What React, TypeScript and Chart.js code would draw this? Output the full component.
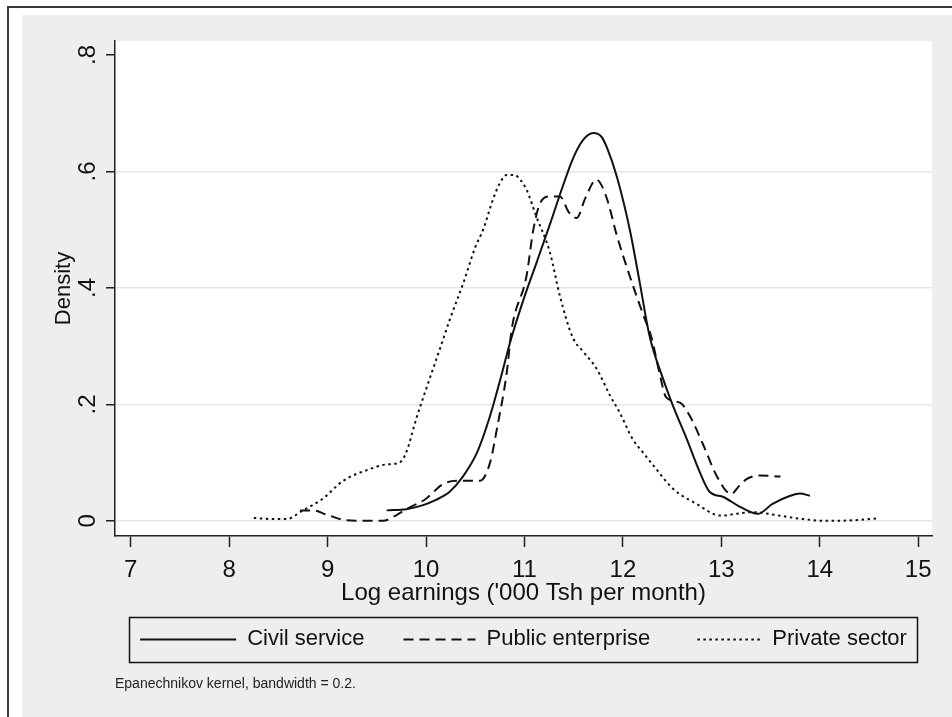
import React, { useEffect, useRef } from 'react';
import { Chart, registerables } from 'chart.js';

Chart.register(...registerables);

// ---- Data ----
const civilX = [9.6, 9.8, 9.97, 10.1, 10.24, 10.37, 10.52, 10.65, 10.75, 10.86, 11.0, 11.13, 11.26, 11.39, 11.5, 11.6, 11.7, 11.78, 11.84, 11.94, 12.07, 12.17, 12.27, 12.41, 12.51, 12.65, 12.78, 12.88, 13.02, 13.19, 13.37, 13.52, 13.7, 13.8, 13.9];
const civilY = [0.018, 0.02, 0.027, 0.036, 0.05, 0.075, 0.118, 0.18, 0.24, 0.31, 0.385, 0.447, 0.51, 0.575, 0.625, 0.655, 0.666, 0.66, 0.64, 0.59, 0.5, 0.41, 0.318, 0.243, 0.197, 0.14, 0.084, 0.05, 0.041, 0.024, 0.012, 0.029, 0.043, 0.047, 0.043];

const publicX = [8.72, 8.85, 9.0, 9.19, 9.4, 9.56, 9.7, 9.8, 10.0, 10.17, 10.31, 10.55, 10.65, 10.72, 10.82, 10.87, 11.02, 11.09, 11.16, 11.26, 11.36, 11.45, 11.53, 11.62, 11.73, 11.83, 11.94, 12.07, 12.21, 12.29, 12.37, 12.44, 12.58, 12.68, 12.82, 12.95, 13.1, 13.18, 13.26, 13.39, 13.6];
const publicY = [0.018, 0.018, 0.01, 0.001, 0.0, 0.0, 0.01, 0.02, 0.038, 0.063, 0.069, 0.069, 0.1, 0.158, 0.255, 0.329, 0.42, 0.5, 0.546, 0.557, 0.557, 0.53, 0.52, 0.555, 0.586, 0.557, 0.489, 0.42, 0.352, 0.315, 0.255, 0.212, 0.203, 0.18, 0.129, 0.078, 0.046, 0.06, 0.072, 0.078, 0.076];

const privateX = [8.25, 8.45, 8.58, 8.75, 8.95, 9.16, 9.43, 9.6, 9.73, 9.8, 9.9, 10.0, 10.14, 10.24, 10.38, 10.5, 10.58, 10.68, 10.75, 10.82, 10.9, 10.96, 11.02, 11.12, 11.26, 11.36, 11.49, 11.6, 11.73, 11.87, 11.97, 12.1, 12.2, 12.31, 12.51, 12.75, 12.99, 13.15, 13.32, 13.59, 13.83, 14.07, 14.34, 14.58];
const privateY = [0.005, 0.003, 0.003, 0.018, 0.038, 0.069, 0.089, 0.097, 0.1, 0.118, 0.175, 0.226, 0.295, 0.345, 0.409, 0.47, 0.5, 0.552, 0.58, 0.594, 0.594, 0.585, 0.569, 0.523, 0.46, 0.386, 0.315, 0.29, 0.262, 0.215, 0.185, 0.14, 0.118, 0.095, 0.055, 0.029, 0.009, 0.012, 0.015, 0.009, 0.003, 0.0, 0.001, 0.004];

const seriesNames = ['Civil service', 'Public enterprise', 'Private sector'];
const xTicks = [7, 8, 9, 10, 11, 12, 13, 14, 15];
const yTicks = [0, 0.2, 0.4, 0.6, 0.8];
const yTickLabels = ['0', '.2', '.4', '.6', '.8'];
const xTitle = "Log earnings ('000 Tsh per month)";
const yTitle = 'Density';
const noteText = 'Epanechnikov kernel, bandwidth = 0.2.';

const FONT = "'Liberation Sans', Arial, sans-serif";
const SYMBOL_W = 96;

const toPoints = (xs: number[], ys: number[]) => xs.map((x, i) => ({ x, y: ys[i] }));

const framePlugin = {
  id: 'stataFrame',
  beforeDraw(chart: any) {
    const { ctx, chartArea: a, width, height } = chart;
    ctx.save();
    ctx.fillStyle = '#ffffff';
    ctx.fillRect(0, 0, width, height);
    ctx.fillStyle = '#eeeeee';
    ctx.fillRect(22, 15, width - 22, height - 15);
    ctx.fillStyle = '#ffffff';
    ctx.fillRect(a.left, a.top, a.right - a.left, a.bottom - a.top);
    ctx.strokeStyle = '#3a3a3a';
    ctx.lineWidth = 2;
    ctx.beginPath();
    ctx.moveTo(8, height);
    ctx.lineTo(8, 7);
    ctx.lineTo(width, 7);
    ctx.stroke();
    ctx.restore();
  },
  afterDraw(chart: any) {
    const { ctx, legend } = chart;
    ctx.save();
    // legend frame
    ctx.strokeStyle = '#111';
    ctx.lineWidth = 1.5;
    ctx.setLineDash([]);
    ctx.strokeRect(129.5, 617.5, 788, 45);
    // legend keys, using each dataset's own line style
    const lens = [SYMBOL_W, 72, 64];
    if (legend && legend.legendHitBoxes) {
      legend.legendHitBoxes.forEach((hb: any, i: number) => {
        const ds = chart.data.datasets[i];
        const y = Math.round(hb.top + hb.height / 2) + 0.5;
        const x1 = hb.left + SYMBOL_W;
        const x0 = x1 - lens[i];
        ctx.beginPath();
        ctx.strokeStyle = ds.borderColor;
        ctx.lineWidth = ds.borderWidth;
        ctx.setLineDash(ds.borderDash || []);
        ctx.moveTo(x0, y);
        ctx.lineTo(x1, y);
        ctx.stroke();
      });
    }
    ctx.restore();
  },
};

export default function App() {
  const ref = useRef<HTMLCanvasElement | null>(null);

  useEffect(() => {
    if (!ref.current) return;
    const chart = new Chart(ref.current, {
      type: 'scatter',
      data: {
        datasets: [
          {
            label: seriesNames[0],
            data: toPoints(civilX, civilY),
            showLine: true,
            borderColor: '#111',
            backgroundColor: 'transparent',
            borderWidth: 2,
            pointRadius: 0,
            cubicInterpolationMode: 'monotone',
          },
          {
            label: seriesNames[1],
            data: toPoints(publicX, publicY),
            showLine: true,
            borderColor: '#111',
            backgroundColor: 'transparent',
            borderWidth: 2,
            borderDash: [10, 6],
            pointRadius: 0,
            cubicInterpolationMode: 'monotone',
          },
          {
            label: seriesNames[2],
            data: toPoints(privateX, privateY),
            showLine: true,
            borderColor: '#111',
            backgroundColor: 'transparent',
            borderWidth: 2,
            borderDash: [2.5, 3.5],
            pointRadius: 0,
            cubicInterpolationMode: 'monotone',
          },
        ],
      } as any,
      options: {
        animation: false,
        responsive: false,
        devicePixelRatio: 1,
        layout: { padding: { left: 0, top: 41, right: 20, bottom: 24.2 } },
        scales: {
          x: {
            type: 'linear',
            min: 6.84,
            max: 15.14,
            afterBuildTicks: (scale: any) => {
              scale.ticks = xTicks.map((v) => ({ value: v }));
            },
            afterFit: (scale: any) => {
              scale.height = 76.5;
            },
            ticks: {
              font: { family: FONT, size: 24 },
              color: '#111',
              padding: 9,
              maxRotation: 0,
              callback: (v: any) => String(v),
            },
            grid: {
              drawOnChartArea: false,
              drawTicks: true,
              tickLength: 11,
              tickColor: '#222',
              tickWidth: 1.5,
            },
            border: { display: true, color: '#222', width: 1.5 },
            title: {
              display: true,
              text: xTitle,
              font: { family: FONT, size: 24 },
              color: '#111',
              padding: { top: 0, bottom: 5 },
            },
          },
          y: {
            type: 'linear',
            min: -0.026,
            max: 0.824,
            afterBuildTicks: (scale: any) => {
              scale.ticks = yTicks.map((v) => ({ value: v }));
            },
            afterFit: (scale: any) => {
              scale.width = 115;
            },
            ticks: {
              font: { family: FONT, size: 24 },
              color: '#111',
              padding: 8,
              minRotation: 90,
              maxRotation: 90,
              crossAlign: 'center',
              callback: (v: any) => {
                const i = yTicks.findIndex((t) => Math.abs(t - v) < 1e-9);
                return i >= 0 ? yTickLabels[i] : '';
              },
            },
            grid: {
              drawOnChartArea: true,
              color: (c: any) => (c.tick && Math.abs(c.tick.value - 0.8) < 1e-9 ? 'rgba(0,0,0,0)' : '#e6e6e6'),
              lineWidth: 1.5,
              drawTicks: true,
              tickLength: 9,
              tickColor: '#222',
              tickWidth: 1.5,
            },
            border: { display: true, color: '#222', width: 1.5 },
            title: {
              display: true,
              text: yTitle,
              font: { family: FONT, size: 22 },
              color: '#111',
              padding: { top: 51, bottom: 0 },
            },
          },
        },
        plugins: {
          legend: {
            display: true,
            position: 'bottom',
            fullSize: false,
            align: 'center',
            labels: {
              usePointStyle: true,
              pointStyle: 'line',
              pointStyleWidth: SYMBOL_W,
              font: { family: FONT, size: 22 },
              color: '#111',
              padding: 15,
              generateLabels: (chart: any) =>
                (Chart.defaults.plugins.legend.labels.generateLabels as any)(chart).map((it: any) => ({
                  ...it,
                  lineWidth: 0,
                  strokeStyle: 'rgba(0,0,0,0)',
                  fillStyle: 'rgba(0,0,0,0)',
                })),
            },
          },
          subtitle: {
            display: true,
            text: noteText,
            position: 'bottom',
            align: 'start',
            fullSize: false,
            font: { family: FONT, size: 14, weight: 'normal' },
            color: '#222',
            padding: { top: 16.5, bottom: 0 },
          },
          title: { display: false },
          tooltip: { enabled: false },
        },
      } as any,
      plugins: [framePlugin],
    });
    return () => chart.destroy();
  }, []);

  return (
    <div style={{ position: 'fixed', left: 0, top: 0, width: 952, height: 717 }}>
      <canvas ref={ref} width={952} height={717} style={{ display: 'block', width: 952, height: 717 }} />
    </div>
  );
}
